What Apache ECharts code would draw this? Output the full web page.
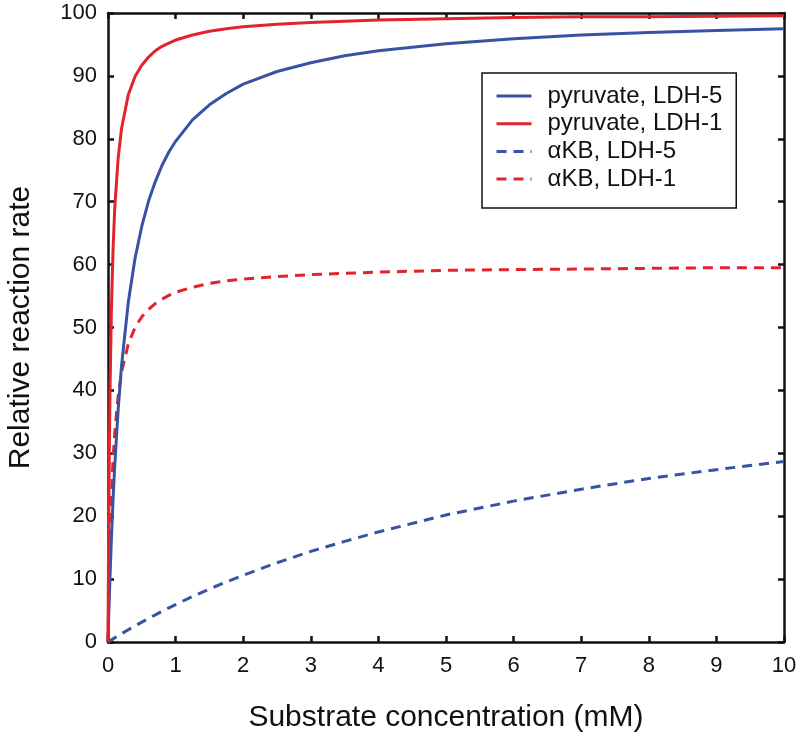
<!DOCTYPE html>
<html>
<head>
<meta charset="utf-8">
<script src="https://cdn.jsdelivr.net/npm/echarts@6/dist/echarts.min.js"></script>
<style>
  html, body { margin: 0; padding: 0; background: #fff; }
  #chart { width: 800px; height: 740px; }
</style>
</head>
<body>
<div id="chart"></div>
<script>
// Substrate concentration (mM)
var substrate = [0, 0.01, 0.02, 0.03, 0.05, 0.075, 0.1, 0.15, 0.2, 0.3, 0.4, 0.5, 0.6, 0.7, 0.8, 0.9, 1, 1.25, 1.5, 1.75, 2, 2.5, 3, 3.5, 4, 5, 6, 7, 8, 9, 10];
// Relative reaction rate
var pyruvateLDH5 = [0, 3.8, 7.2, 10.5, 16.3, 22.7, 28.1, 36.9, 43.9, 54.0, 61.0, 66.1, 70.1, 73.2, 75.8, 77.9, 79.6, 83.0, 85.4, 87.2, 88.7, 90.7, 92.1, 93.2, 94.0, 95.1, 95.9, 96.5, 96.9, 97.2, 97.5];
var pyruvateLDH1 = [0, 18.2, 30.8, 40.0, 52.6, 62.5, 69.0, 76.9, 81.6, 87.0, 89.9, 91.7, 93.0, 94.0, 94.7, 95.2, 95.7, 96.5, 97.1, 97.5, 97.8, 98.2, 98.5, 98.7, 98.9, 99.1, 99.3, 99.4, 99.4, 99.5, 99.55];
var akbLDH5 = [0, 0.07, 0.13, 0.2, 0.34, 0.5, 0.67, 0.99, 1.32, 1.95, 2.56, 3.16, 3.75, 4.32, 4.88, 5.42, 5.95, 7.23, 8.43, 9.55, 10.6, 12.6, 14.4, 16.0, 17.5, 20.2, 22.4, 24.3, 26.0, 27.4, 28.7];
var akbLDH1 = [0, 6.7, 12.0, 16.4, 23.1, 29.0, 33.3, 39.1, 42.9, 47.4, 50.0, 51.7, 52.9, 53.8, 54.5, 55.1, 55.6, 56.4, 57.0, 57.4, 57.7, 58.1, 58.4, 58.6, 58.8, 59.1, 59.2, 59.3, 59.4, 59.5, 59.5];
var seriesNames = ['pyruvate, LDH-5', 'pyruvate, LDH-1', '\u03b1KB, LDH-5', '\u03b1KB, LDH-1'];
var xTicks = [0, 1, 2, 3, 4, 5, 6, 7, 8, 9, 10];
var yTicks = [0, 10, 20, 30, 40, 50, 60, 70, 80, 90, 100];

var BLUE = '#3953a4';
var RED = '#e3232b';
var FONT = 'Liberation Sans, Arial, Helvetica, sans-serif';

function pairs(ys) {
  return substrate.map(function (x, i) { return [x, ys[i]]; });
}

var axisLineStyle = { color: '#111', width: 2.5 };
var tickStyle = { show: true, inside: true, length: 6, lineStyle: { color: '#111', width: 2.5 } };

var chart = echarts.init(document.getElementById('chart'), null, { renderer: 'canvas' });
chart.setOption({
  backgroundColor: '#ffffff',
  animation: false,
  grid: { left: 108, right: 16, top: 13, bottom: 98, containLabel: false, outerBoundsMode: 'none' },
  legend: {
    orient: 'vertical',
    left: 482,
    top: 73,
    padding: [11, 14, 17, 13],
    itemGap: 3.7,
    itemWidth: 35,
    itemHeight: 14,
    itemStyle: { color: 'transparent', borderWidth: 0, opacity: 0 },
    lineStyle: { width: 3 },
    backgroundColor: '#ffffff',
    borderColor: '#111',
    borderWidth: 1.5,
    borderRadius: 0,
    data: seriesNames,
    textStyle: { fontFamily: FONT, fontSize: 24, color: '#111', lineHeight: 22, padding: [0, 0, 0, 11] }
  },
  xAxis: [
    {
      type: 'value', position: 'bottom', min: xTicks[0], max: xTicks[xTicks.length - 1], interval: 1,
      name: 'Substrate concentration (mM)', nameLocation: 'middle', nameGap: 61,
      nameTextStyle: { fontFamily: FONT, fontSize: 30, color: '#111' },
      axisLine: { show: true, onZero: false, lineStyle: axisLineStyle },
      axisTick: tickStyle,
      axisLabel: { fontFamily: FONT, fontSize: 22, color: '#111', margin: 13 },
      splitLine: { show: false }
    },
    {
      type: 'value', position: 'top', min: 0, max: 10, interval: 1,
      axisLine: { show: true, onZero: false, lineStyle: axisLineStyle },
      axisTick: tickStyle,
      axisLabel: { show: false },
      splitLine: { show: false }
    }
  ],
  yAxis: [
    {
      type: 'value', position: 'left', min: yTicks[0], max: yTicks[yTicks.length - 1], interval: 10,
      name: 'Relative reaction rate', nameLocation: 'middle', nameGap: 72,
      nameTextStyle: { fontFamily: FONT, fontSize: 30, color: '#111' },
      axisLine: { show: true, onZero: false, lineStyle: axisLineStyle },
      axisTick: tickStyle,
      axisLabel: { fontFamily: FONT, fontSize: 22, color: '#111', margin: 11 },
      splitLine: { show: false }
    },
    {
      type: 'value', position: 'right', min: 0, max: 100, interval: 10,
      axisLine: { show: true, onZero: false, lineStyle: axisLineStyle },
      axisTick: tickStyle,
      axisLabel: { show: false },
      splitLine: { show: false }
    }
  ],
  series: [
    {
      name: seriesNames[0], type: 'line', xAxisIndex: 0, yAxisIndex: 0,
      data: pairs(pyruvateLDH5), symbol: 'none', smooth: false,
      lineStyle: { color: BLUE, width: 3, join: 'round' }, itemStyle: { color: BLUE }, z: 3
    },
    {
      name: seriesNames[1], type: 'line', xAxisIndex: 0, yAxisIndex: 0,
      data: pairs(pyruvateLDH1), symbol: 'none', smooth: false,
      lineStyle: { color: RED, width: 3, join: 'round' }, itemStyle: { color: RED }, z: 4
    },
    {
      name: seriesNames[2], type: 'line', xAxisIndex: 0, yAxisIndex: 0,
      data: pairs(akbLDH5), symbol: 'none', smooth: false,
      lineStyle: { color: BLUE, width: 3, type: [10, 7] }, itemStyle: { color: BLUE }, z: 2
    },
    {
      name: seriesNames[3], type: 'line', xAxisIndex: 0, yAxisIndex: 0,
      data: pairs(akbLDH1), symbol: 'none', smooth: false,
      lineStyle: { color: RED, width: 3, type: [10, 7] }, itemStyle: { color: RED }, z: 2
    }
  ]
});
</script>
</body>
</html>
